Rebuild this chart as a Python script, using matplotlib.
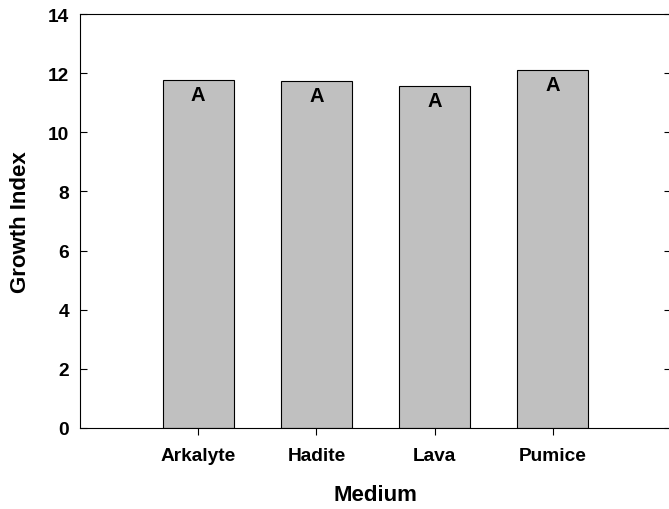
import matplotlib
matplotlib.use("Agg")
import matplotlib.pyplot as plt

plt.rcParams['font.family'] = ['Liberation Sans', 'DejaVu Sans']
plt.rcParams['font.weight'] = 'bold'

# data
media = ["Arkalyte", "Hadite", "Lava", "Pumice"]
growth = [11.78, 11.72, 11.56, 12.10]
letters = ["A", "A", "A", "A"]
positions = [1, 2, 3, 4]

fig = plt.figure(figsize=(6.69, 5.10), dpi=100)
ax = fig.add_axes([80 / 669, 81 / 510, 591 / 669, 414 / 510])

ax.bar(positions, growth, width=0.6, color="#c0c0c0", edgecolor="black", linewidth=0.8)

# significance letters just under each bar top
for x, h, s in zip(positions, growth, letters):
    ax.annotate(s, (x, h), xytext=(0, -5), textcoords="offset pixels",
                ha="center", va="top", fontsize=14.5, fontweight="bold")

ax.set_xlim(0, 5)
ax.set_ylim(0, 14)
ax.set_xticks(positions)
ax.set_xticklabels(media)
ax.set_yticks(range(0, 15, 2))

for sp in ax.spines.values():
    sp.set_linewidth(0.8)

ax.tick_params(axis="y", direction="in", length=5, width=0.8, labelsize=13.8,
               right=True, pad=8)
ax.tick_params(axis="x", direction="out", length=5, width=0.8, labelsize=13.8, pad=9)

ax.set_xlabel("Medium", fontsize=16, fontweight="bold", labelpad=14)
ax.set_ylabel("Growth Index", fontsize=16, fontweight="bold", labelpad=12)

fig.savefig("out.png", dpi=100)
